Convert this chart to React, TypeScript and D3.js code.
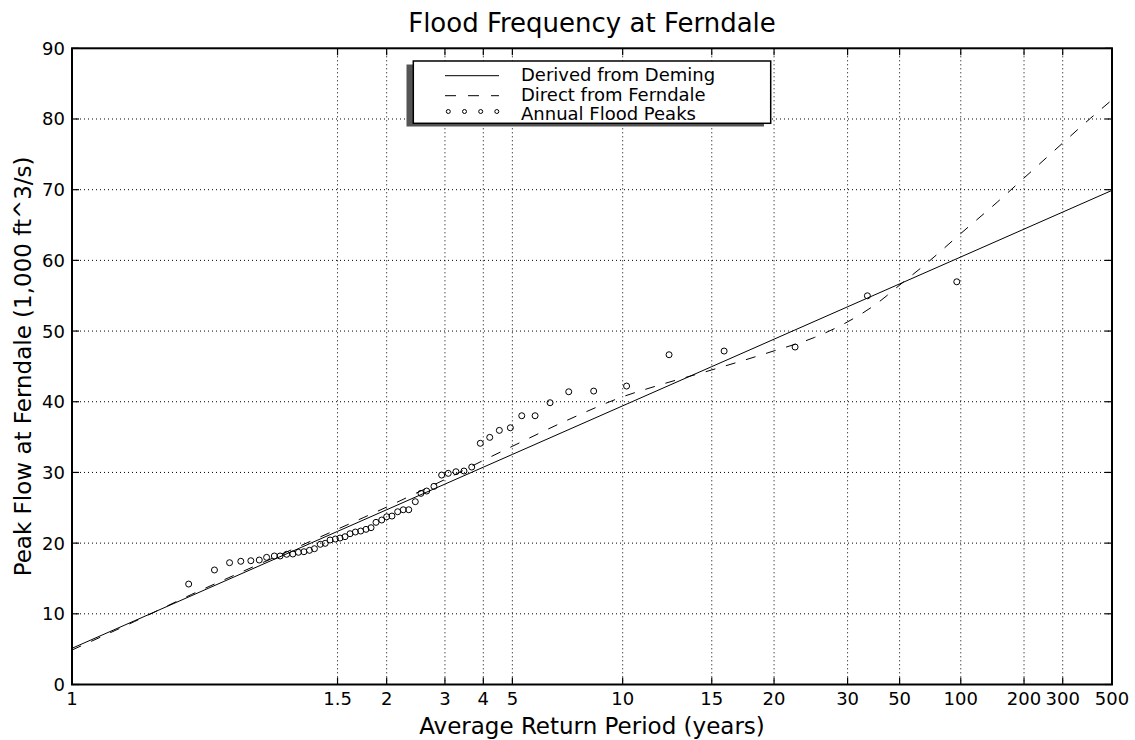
import * as d3 from 'd3';

// return periods on the x axis (years) and the Deming-derived flow at each of them
const returnTicks = [1, 1.5, 2, 3, 4, 5, 10, 15, 20, 30, 50, 100, 200, 300, 500];
const demingFlow = [5.12, 21.66, 24.72, 28.35, 30.74, 32.55, 39.42, 44.97, 48.85, 53.43, 56.67, 60.48, 64.42, 66.83, 69.9];

const flowTicks = [0, 10, 20, 30, 40, 50, 60, 70, 80, 90];

// direct fit from the Ferndale record
const ferndaleT = [1, 1.1, 1.2, 1.3, 1.4, 1.5, 1.75, 2, 2.5, 3, 4, 5, 7, 10, 12, 15, 20, 25, 30, 40, 50, 70, 100, 150, 200, 300, 400, 500];
const ferndaleFlow = [4.88, 8.9, 12.73, 16.06, 19.11, 21.97, 23.64, 25.1, 27.24, 29.0, 31.7, 33.7, 37.3, 40.7, 42.5, 44.5, 47.2, 49.1, 51.3, 53.9, 56.5, 59.9, 63.8, 68.3, 71.65, 76.6, 80.1, 82.7];

// annual flood peaks (return period, flow)
const peakT = [1.195, 1.243, 1.272, 1.294, 1.314, 1.331, 1.346, 1.362, 1.374, 1.388, 1.401, 1.413, 1.425, 1.437, 1.448, 1.461, 1.472, 1.483, 1.495, 1.522, 1.567, 1.614, 1.665, 1.718, 1.772, 1.825, 1.879, 1.943, 2.0, 2.075, 2.159, 2.245, 2.332, 2.441, 2.539, 2.642, 2.779, 2.932, 3.075, 3.258, 3.461, 3.667, 3.911, 4.202, 4.524, 4.923, 5.304, 5.767, 6.337, 7.125, 8.335, 10.18, 12.35, 15.88, 22.46, 36.44, 95.57];
const peakFlow = [14.21, 16.2, 17.23, 17.43, 17.51, 17.61, 17.99, 18.18, 18.18, 18.42, 18.46, 18.7, 18.78, 18.98, 19.21, 19.83, 19.97, 20.44, 20.58, 20.72, 20.91, 21.33, 21.57, 21.71, 21.95, 22.18, 22.94, 23.27, 23.73, 23.83, 24.44, 24.72, 24.72, 25.86, 27.04, 27.37, 28.03, 29.63, 29.87, 30.1, 30.2, 30.76, 34.12, 34.96, 35.95, 36.32, 38.02, 38.02, 39.86, 41.41, 41.51, 42.22, 46.65, 47.17, 47.74, 54.99, 56.97];

const legendItems = ['Derived from Deming', 'Direct from Ferndale', 'Annual Flood Peaks'];

const W = 1135
	, H = 740
	, left = 72
	, right = 1112
	, top = 48.3
	, bottom = 684.5
	, font = '"DejaVu Sans", Verdana, sans-serif'
	;

function App(){
	// x axis is linear in the Deming flow, so that curve plots as a straight line
	const flowAt = d3.scaleLinear().domain(returnTicks.map(Math.log10)).range(demingFlow)
		, xFlow = d3.scaleLinear().domain([demingFlow[0], demingFlow[demingFlow.length - 1]]).range([left, right])
		, x = (t: number) => xFlow(flowAt(Math.log10(t)))
		, y = d3.scaleLinear().domain([0, 90]).range([bottom, top])
		, line = d3.line<number>().x((d, i) => x(returnTicks[i])).y(d => y(d))
		, dashed = d3.line<number>().x((d, i) => x(ferndaleT[i])).y(d => y(d)).curve(d3.curveMonotoneX)
		, tickLen = 7
		, legendBase = [81, 100.5, 120]
		;

	return (<svg width={W} height={H} style={{position: 'absolute', left: 0, top: 0, background: '#fff'}}
	             fontFamily={font}>
		<rect x={0} y={0} width={W} height={H} fill="#fff"/>

		{/* grid */}
		<g stroke="#000" strokeWidth={1} strokeDasharray="1,3">
			{returnTicks.slice(1, -1).map(t => (<line key={'gx' + t} x1={x(t)} x2={x(t)} y1={top} y2={bottom}/>))}
			{flowTicks.slice(1, -1).map(v => (<line key={'gy' + v} x1={left} x2={right} y1={y(v)} y2={y(v)}/>))}
		</g>

		{/* curves */}
		<path d={line(demingFlow) || ''} fill="none" stroke="#000" strokeWidth={1}/>
		<path d={dashed(ferndaleFlow) || ''} fill="none" stroke="#000" strokeWidth={1} strokeDasharray="10,11"/>
		<g fill="none" stroke="#000" strokeWidth={1}>
			{peakFlow.map((v, i) => (<circle key={'p' + i} cx={x(peakT[i])} cy={y(v)} r={3}/>))}
		</g>

		{/* ticks */}
		<g stroke="#000" strokeWidth={1.2}>
			{returnTicks.map(t => (<g key={'tx' + t}>
				<line x1={x(t)} x2={x(t)} y1={bottom} y2={bottom - tickLen}/>
				<line x1={x(t)} x2={x(t)} y1={top} y2={top + tickLen}/>
			</g>))}
			{flowTicks.map(v => (<g key={'ty' + v}>
				<line x1={left} x2={left + tickLen} y1={y(v)} y2={y(v)}/>
				<line x1={right} x2={right - tickLen} y1={y(v)} y2={y(v)}/>
			</g>))}
		</g>
		<rect x={left} y={top} width={right - left} height={bottom - top} fill="none" stroke="#000" strokeWidth={2}/>

		{/* tick labels */}
		<g fontSize={18} fill="#000">
			{returnTicks.map(t => (<text key={'lx' + t} x={x(t)} y={bottom + 20.5} textAnchor="middle">{t}</text>))}
			{flowTicks.map(v => (<text key={'ly' + v} x={left - 7} y={y(v) + 6.5} textAnchor="end">{v}</text>))}
		</g>

		{/* titles */}
		<text x={(left + right) / 2} y={32} textAnchor="middle" fontSize={26}>Flood Frequency at Ferndale</text>
		<text x={(left + right) / 2} y={734} textAnchor="middle" fontSize={23}>Average Return Period (years)</text>
		<text transform={`translate(31, ${(top + bottom) / 2}) rotate(-90)`} textAnchor="middle" fontSize={23}>Peak Flow at Ferndale (1,000 ft^3/s)</text>

		{/* legend */}
		<g>
			<rect x={406.5} y={64.5} width={357.5} height={62} fill="#555"/>
			<rect x={413.3} y={61} width={357.4} height={62.3} fill="#fff" stroke="#000" strokeWidth={1.5}/>
			<line x1={445} x2={499} y1={75.7} y2={75.7} stroke="#000" strokeWidth={1}/>
			<line x1={445} x2={499} y1={95.7} y2={95.7} stroke="#000" strokeWidth={1} strokeDasharray="11,12"/>
			{[448.3, 464.5, 480.7, 496.8].map(cx => (<circle key={'lc' + cx} cx={cx} cy={111.5} r={2} fill="none" stroke="#000" strokeWidth={1}/>))}
			{legendItems.map((label, i) => (<text key={label} x={521} y={legendBase[i]} fontSize={18}>{label}</text>))}
		</g>
	</svg>);
}

export default App;
